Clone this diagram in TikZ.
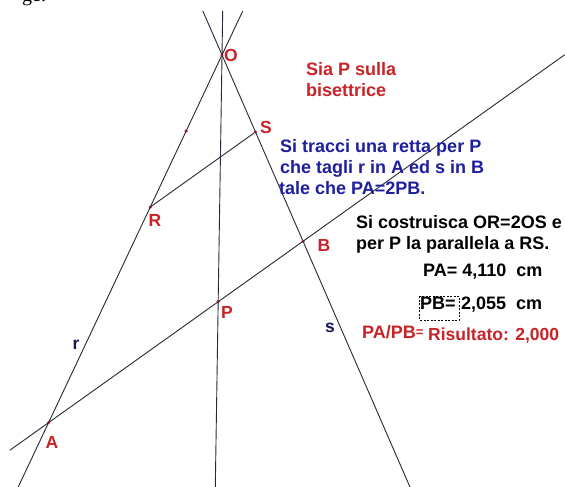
\documentclass[tikz,border=0pt]{standalone}
\usepackage{fontspec}
\setmainfont{Liberation Sans}
\newfontfamily\serifgge{Liberation Serif}
\usetikzlibrary{calc}
\definecolor{linec}{RGB}{40,40,55}
\definecolor{redc}{RGB}{200,35,40}
\definecolor{bluec}{RGB}{30,30,160}
\definecolor{navyc}{RGB}{25,25,90}
\definecolor{dotc}{RGB}{140,25,45}
\tikzset{
  geoline/.style={draw=linec, line width=0.9pt},
  txt/.style={anchor=base west, inner sep=0pt, font=\fontsize{18}{21}\selectfont\bfseries},
  lbl/.style={inner sep=0pt, text=redc, font=\fontsize{17.5}{20}\selectfont\bfseries},
  dotp/.style={fill=dotc, draw=none},
}
\begin{document}
\begin{tikzpicture}[x=1pt,y=-1pt]
\useasboundingbox (0,0) rectangle (565,487);
\fill[white] (0,0) rectangle (565,487);
\clip (0,0) rectangle (565,487);
% construction points
\coordinate (O) at (222,55);
\coordinate (R) at (150.3,207);
\coordinate (S) at (255.5,132);
\coordinate (M) at ($(O)!0.5!(R)$);
\coordinate (P) at (218.2,301.7);
\coordinate (P2) at ($(P)+(S)-(R)$);
\coordinate (A) at (intersection of P--P2 and O--R);
\coordinate (B) at (intersection of P--P2 and O--S);
\coordinate (rT) at ($(O)!-0.2895!(R)$);
\coordinate (rB) at ($(O)!2.842!(R)$);
\coordinate (sT) at ($(O)!-0.571!(S)$);
\coordinate (sB) at ($(O)!5.61!(S)$);
\coordinate (bT) at (222.7,11);
\coordinate (bB) at (215.3,487);
\coordinate (abL) at ($(A)!-0.152!(B)$);
\coordinate (abR) at ($(A)!2.028!(B)$);
% lines
\draw[geoline] (rT) -- (rB);
\draw[geoline] (sT) -- (sB);
\draw[geoline] (bT) -- (bB);
\draw[geoline] (abL) -- (abR);
\draw[geoline] (R) -- (S);
% points
\foreach \q in {O,R,S,M,P,A,B} \fill[dotp] (\q) circle (1.7);
% point labels
\node[lbl] (lO) at (231,55) {O};
\node[lbl] (lS) at (266,127) {S};
\node[lbl] (lR) at (155,220) {R};
\node[lbl] (lB) at (324,245) {B};
\node[lbl] (lP) at (227,312) {P};
\node[lbl] (lA) at (52,442) {A};
\node[lbl, text=navyc] (lr) at (76,345) {r};
\node[lbl, text=navyc] (ls) at (330,328) {s};
% texts
\node[txt, text=redc] (t1) at (306,76) {Sia P sulla};
\node[txt, text=redc] (t2) at (306,96) {bisettrice};
\node[txt, text=bluec] (t3) at (280,152) {Si tracci una retta per P};
\node[txt, text=bluec] (t4) at (280,173) {che tagli r in A ed s in B};
\node[txt, text=bluec] (t5) at (279,194) {tale che PA=2PB.};
\node[txt] (t6) at (356,228) {Si costruisca OR=2OS e};
\node[txt] (t7) at (356,249) {per P la parallela a RS.};
\node[txt] (t8) at (423,276.5) {PA=\ 4,110\ \ cm};
\node[txt] (t9) at (420,309) {PB=};
\node[txt] (t10) at (461,309) {2,055\ \ cm};
\draw[black, line width=0.6pt, dash pattern=on 2pt off 1.5pt] (419.5,296) rectangle (459,320);
\node[txt, text=redc] (t11) at (362,338) {PA/PB\raisebox{2pt}{\fontsize{13}{13}\selectfont =}};
\node[txt, text=redc, font=\fontsize{17.5}{21}\selectfont\bfseries] (t12) at (428,340) {Risultato: 2,000};
% clipped caption fragment at the top edge
\node[anchor=base west, inner sep=0pt, font=\serifgge\fontsize{20}{20}\selectfont] (cap) at (22,2) {ge.};
\end{tikzpicture}
\end{document}
